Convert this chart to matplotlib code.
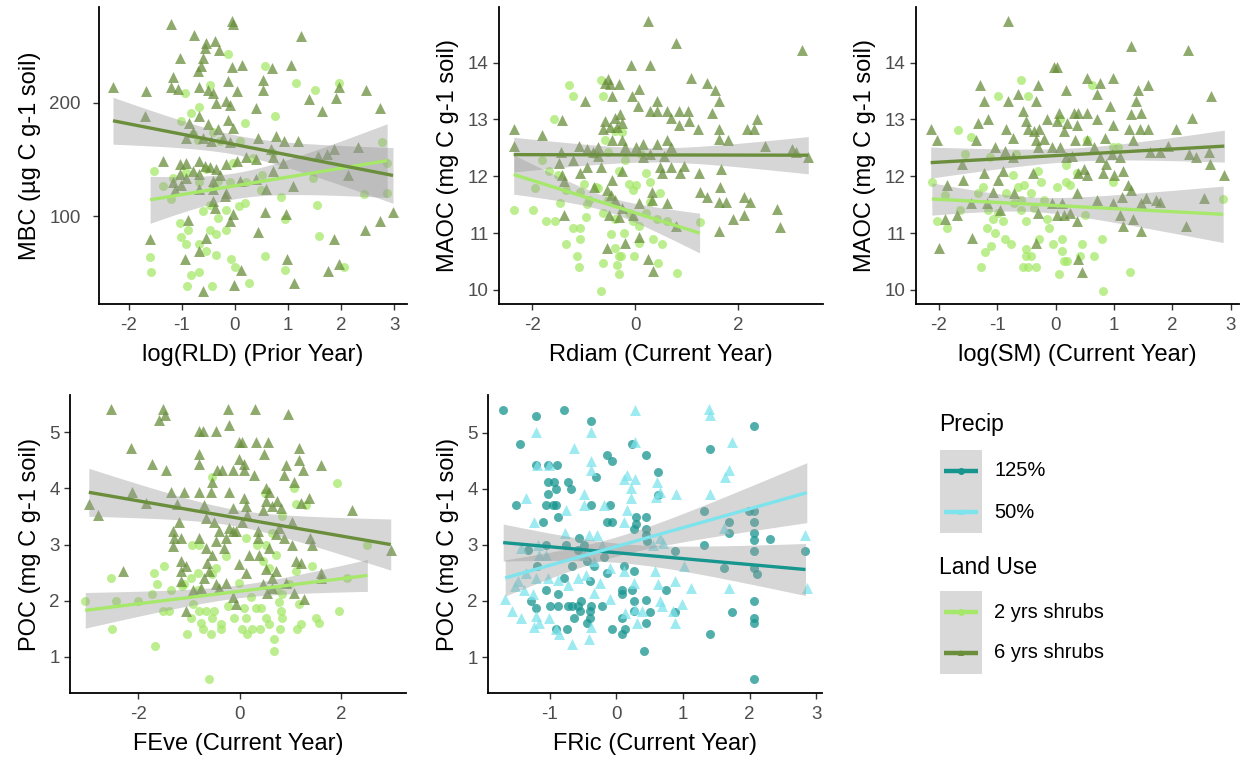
import numpy as np
import matplotlib
matplotlib.use("Agg")
import matplotlib.pyplot as plt
from matplotlib.patches import Rectangle

plt.rcParams['font.family'] = ['Liberation Sans', 'DejaVu Sans']
plt.rcParams['axes.unicode_minus'] = False

# colours
C_2YRS = '#a6e86a'
C_6YRS = '#6a8e3c'
C_125 = '#17958f'
C_50 = '#7de3ec'

# ---- data: (x, y) pairs ----
rld_2yrs = [(-0.13,243),(0.57,232),(1.16,217),(1.51,211),(1.97,217),(-0.94,208),(-0.48,215),(-0.82,191),(-0.67,196),(-1.01,184),(0.75,188),(0.18,182),(-0.79,172),(-0.70,167),(-0.42,174),(-0.29,166),(0.09,166),(0.34,151),(0.72,156),(2.77,165),(2.87,147),(-1.52,140),(-1.36,127),(-1.20,115),(-1.17,134),(-0.92,139),(-0.67,130),(-0.54,142),(-0.42,126),(-0.32,131),(-0.10,130),(-0.04,147),(0.51,136),(0.21,130),(0.50,123),(0.86,117),(1.48,134),(2.43,120),(2.87,121),(-0.60,105),(-0.48,110),(-0.16,106),(0.08,109),(0.18,112),(1.55,110),(0.94,98),(-0.32,99),(-1.04,94),(-0.89,88),(-1.01,82),(-0.92,76),(-0.48,88),(-0.35,85),(-0.16,88),(-0.68,76),(-0.54,70),(-0.35,66),(-0.07,63),(0.01,56),(0.57,65),(1.58,83),(2.05,56),(0.95,53),(-1.60,64),(-1.58,51),(-0.83,49),(-0.68,51),(-0.91,39),(-0.43,39),(0.26,42)]
rld_6yrs = [(-2.30,214),(-1.67,210),(-1.69,188),(-1.21,269),(-0.77,259),(-0.06,272),(-0.04,269),(1.25,258),(-0.54,252),(-0.56,248),(-0.38,254),(-0.31,246),(-1.03,239),(-0.60,239),(-0.64,232),(-0.69,228),(-0.06,231),(0.13,233),(0.69,230),(1.06,233),(-1.17,222),(-1.21,214),(-1.08,212),(-0.67,214),(-0.51,211),(-0.42,208),(-0.13,219),(0.03,210),(0.53,220),(0.52,211),(1.40,203),(1.65,193),(1.91,204),(1.97,214),(2.48,211),(2.73,195),(0.39,195),(-0.35,200),(-0.16,201),(-0.10,198),(-0.86,182),(-0.67,188),(-0.51,181),(-0.32,177),(-0.13,185),(-0.04,178),(-0.79,174),(-0.92,169),(-0.60,169),(-0.45,166),(-0.23,169),(-0.10,165),(0.43,169),(0.78,171),(0.92,166),(1.19,166),(2.32,161),(1.86,159),(1.74,155),(1.57,153),(0.67,159),(0.72,152),(-1.36,149),(-1.04,146),(-0.92,147),(-0.67,149),(-0.57,144),(-0.48,143),(-0.35,142),(-0.16,146),(0.03,149),(0.21,152),(0.40,150),(0.91,147),(0.72,140),(-1.04,137),(-0.92,134),(-0.79,140),(-0.67,137),(-0.42,131),(-0.29,136),(0.09,131),(0.40,133),(2.13,136),(-1.17,130),(-1.01,128),(-1.13,123),(-0.67,124),(-0.42,124),(-0.16,121),(0.59,124),(1.09,127),(-0.19,118),(-0.42,114),(-0.38,107),(-0.04,102),(-0.10,96),(0.97,102),(0.56,104),(2.98,104),(2.73,96),(2.45,88),(0.43,86),(-1.60,80),(-0.89,97),(-0.54,81),(-0.67,70),(-0.95,63),(0.98,63),(1.87,80),(1.97,58),(1.75,52),(0.12,53),(-0.01,40),(1.11,42),(-0.60,35)]

rdiam_2yrs = [(-2.36,11.40),(-1.98,11.40),(-1.94,11.79),(-1.81,12.29),(-1.74,11.21),(-1.55,11.21),(-1.57,13.00),(-1.28,13.61),(-1.21,13.41),(-1.67,12.10),(-1.50,12.02),(-1.47,11.53),(-1.34,11.76),(-1.20,11.09),(-1.07,11.09),(-1.07,10.90),(-1.34,10.80),(-1.13,10.60),(-1.10,10.40),(-1.07,11.73),(-0.96,11.29),(-0.90,11.58),(-1.00,11.87),(-0.76,11.81),(-0.66,9.99),(-0.66,13.70),(-0.63,13.41),(-0.59,12.63),(-0.53,12.42),(-0.73,11.79),(-0.53,11.58),(-0.63,11.35),(-0.63,10.48),(-0.47,10.98),(-0.39,10.74),(-0.32,10.60),(-0.36,10.43),(-0.32,10.28),(-0.27,10.60),(-0.26,12.77),(-0.32,12.10),(-0.19,12.28),(-0.12,11.87),(-0.05,11.76),(0.01,11.84),(-0.12,11.35),(-0.05,11.21),(0.08,11.12),(-0.02,10.60),(0.08,10.83),(0.11,12.39),(0.21,12.05),(0.28,11.90),(0.49,11.71),(0.28,11.54),(0.42,11.24),(0.62,11.21),(0.35,10.89),(0.52,10.80),(0.45,10.48),(0.82,10.30),(0.21,11.35),(-0.39,12.80),(-0.80,12.39),(-0.93,11.52),(-0.39,11.24),(-0.22,11.00),(1.25,11.20)]
rdiam_6yrs = [(-2.36,12.83),(-2.36,12.53),(-1.82,12.73),(-1.43,12.99),(-1.45,12.42),(-1.48,12.23),(-1.43,12.02),(-1.38,11.91),(-1.38,11.31),(-0.98,13.33),(-1.10,12.53),(-0.93,12.48),(-0.83,12.42),(-0.73,12.51),(-0.73,12.35),(-0.53,13.71),(-0.59,13.64),(-0.49,13.62),(-0.32,13.62),(-0.46,13.42),(-0.59,12.97),(-0.63,12.83),(-0.49,12.86),(-0.39,13.03),(-0.29,13.09),(-0.26,12.94),(-0.36,12.86),(-0.46,12.63),(-0.26,12.63),(-0.19,12.51),(-0.26,12.10),(-0.46,11.93),(-0.54,11.76),(-0.47,11.67),(-0.39,11.58),(-0.26,11.44),(-0.51,11.31),(-0.32,11.29),(-0.05,11.31),(0.08,11.53),(0.07,10.93),(-0.19,10.82),(-0.55,10.74),(-0.09,13.96),(0.28,13.96),(0.25,14.74),(0.79,14.35),(0.08,13.54),(-0.07,13.42),(0.05,13.23),(0.28,13.15),(0.42,13.33),(0.42,13.15),(0.62,13.15),(0.69,13.03),(0.85,13.15),(1.02,13.15),(1.09,13.72),(1.39,13.64),(1.55,13.52),(1.62,13.32),(1.50,13.12),(0.84,12.91),(1.05,12.97),(1.21,12.83),(1.63,12.83),(2.36,13.00),(2.17,12.83),(2.31,12.83),(1.63,12.65),(1.81,12.63),(2.51,12.54),(3.05,12.48),(3.24,14.22),(3.36,12.34),(3.12,12.42),(1.67,12.13),(1.65,11.81),(1.23,12.05),(0.94,12.18),(0.86,12.05),(0.69,12.16),(0.52,12.05),(0.49,12.16),(0.28,12.39),(0.42,12.57),(0.62,12.63),(0.69,12.51),(0.55,12.36),(0.15,12.57),(0.01,12.51),(0.15,12.34),(0.32,11.73),(0.32,11.58),(0.61,11.53),(1.26,11.73),(1.40,11.64),(1.63,11.54),(1.77,11.54),(2.12,11.64),(2.23,11.55),(2.12,11.32),(1.90,11.24),(2.76,11.42),(2.81,11.11),(1.62,11.03),(0.79,11.12),(0.25,10.54),(0.34,10.34),(-0.80,11.81),(-0.93,12.16),(-1.07,12.05),(-1.20,12.28),(-0.66,12.16)]

sm_2yrs = [(-2.12,11.90),(-2.03,11.21),(-1.89,11.67),(-1.86,11.09),(-1.68,12.81),(-1.64,11.41),(-1.55,12.39),(-1.45,12.69),(-1.27,10.40),(-1.33,11.70),(-1.24,11.81),(-1.21,10.66),(-1.18,11.09),(-1.15,11.41),(-1.10,10.78),(-1.13,12.34),(-1.07,11.24),(-1.04,11.00),(-0.99,13.41),(-0.99,11.35),(-0.90,11.21),(-0.87,10.89),(-0.76,10.80),(-0.85,11.70),(-0.73,12.02),(-0.68,12.39),(-0.65,11.81),(-0.71,11.53),(-0.59,13.70),(-0.54,11.84),(-0.59,11.58),(-0.59,11.41),(-0.51,11.21),(-0.51,10.72),(-0.56,10.40),(-0.48,10.40),(-0.34,10.40),(-0.51,10.60),(-0.42,10.60),(-0.48,13.41),(-0.42,11.70),(-0.37,11.44),(-0.31,12.10),(-0.28,10.89),(-0.25,11.90),(-0.20,11.58),(-0.14,11.24),(-0.11,11.09),(-0.04,10.80),(0.03,11.81),(0.06,10.28),(0.08,13.00),(0.11,10.89),(0.11,10.69),(0.14,10.51),(0.20,10.51),(0.17,11.90),(0.17,12.19),(0.25,11.84),(0.37,12.05),(0.45,10.80),(0.41,10.60),(0.51,11.32),(0.54,12.63),(0.65,10.60),(0.62,13.61),(0.79,10.89),(0.81,9.99),(0.99,12.51),(0.98,11.90),(1.27,10.31),(1.07,12.51),(2.87,11.60)]
sm_6yrs = [(-2.14,12.83),(-2.04,12.64),(-2.00,10.74),(-1.86,11.84),(-1.89,11.24),(-1.69,11.31),(-1.61,12.22),(-1.58,11.93),(-1.44,10.92),(-1.45,11.53),(-1.37,12.64),(-1.30,13.61),(-1.33,12.94),(-1.23,13.33),(-1.22,12.05),(-1.18,11.53),(-1.15,13.00),(-1.07,11.73),(-1.04,12.51),(-0.99,11.93),(-0.90,12.10),(-0.96,11.41),(-0.82,14.74),(-0.82,13.33),(-0.85,12.83),(-0.73,12.68),(-0.73,12.34),(-0.71,11.70),(-0.87,12.45),(-0.65,13.44),(-0.56,13.15),(-0.51,12.97),(-0.48,12.83),(-0.37,12.80),(-0.31,13.61),(-0.34,13.32),(-0.28,12.83),(-0.34,12.63),(-0.31,12.51),(-0.20,12.65),(-0.39,12.05),(-0.31,11.35),(-0.34,10.83),(-0.14,13.00),(-0.03,13.92),(0.03,13.92),(0.06,13.12),(0.03,12.97),(0.14,12.80),(0.08,12.51),(-0.06,12.51),(-0.06,11.53),(0.11,11.53),(0.03,11.32),(0.14,11.32),(0.17,13.52),(0.20,12.94),(0.31,13.12),(0.39,13.12),(0.37,12.91),(0.34,12.63),(0.28,12.36),(0.17,12.34),(0.39,12.05),(0.37,11.70),(0.25,11.35),(0.37,11.21),(0.39,10.54),(0.46,10.31),(0.54,13.72),(0.54,13.12),(0.71,13.00),(0.76,13.64),(0.71,13.44),(0.54,12.63),(0.65,12.51),(0.48,12.13),(0.54,12.02),(0.71,11.58),(0.76,12.34),(0.85,12.68),(0.93,13.23),(0.99,13.72),(0.98,12.91),(0.87,12.22),(0.96,12.39),(0.82,12.05),(1.00,12.02),(1.10,12.34),(0.99,11.53),(1.13,11.64),(1.10,11.32),(1.16,11.12),(1.16,12.10),(1.30,14.30),(1.30,13.09),(1.26,12.83),(1.32,12.63),(1.38,13.32),(1.41,13.52),(1.46,13.12),(1.44,12.83),(1.58,12.83),(1.58,13.61),(1.61,12.42),(1.24,11.84),(1.30,11.76),(1.32,11.24),(1.46,11.03),(1.46,11.53),(1.55,11.61),(1.72,11.58),(1.78,11.55),(1.78,12.42),(1.92,12.54),(2.06,12.83),(2.27,14.22),(2.34,13.03),(2.28,12.39),(2.40,12.34),(2.24,11.12),(2.54,11.61),(2.67,13.41),(2.62,12.42),(2.65,12.22),(2.89,12.02)]

feve_2yrs = [(-3.04,2.00),(-2.53,2.41),(-2.52,1.50),(-2.43,2.00),(-2.01,2.00),(-1.68,2.50),(-1.67,1.20),(-1.49,2.62),(-1.62,2.29),(-1.36,2.20),(-1.72,2.12),(-1.52,1.82),(-1.39,1.82),(-1.09,2.30),(-1.03,1.41),(-0.94,3.00),(-0.80,3.00),(-0.83,2.50),(-0.96,2.41),(-0.83,2.20),(-0.93,1.94),(-0.80,1.82),(-0.96,1.70),(-0.77,1.61),(-0.73,1.50),(-0.57,1.41),(-0.60,0.60),(-0.54,2.47),(-0.47,2.59),(-0.67,1.82),(-0.50,1.82),(-0.54,1.70),(-0.37,1.58),(-0.37,1.50),(-0.27,2.79),(-0.54,4.21),(-0.24,1.91),(-0.11,1.70),(-0.01,2.32),(0.08,1.88),(0.12,1.70),(0.05,1.50),(0.15,1.40),(0.25,1.50),(0.40,1.50),(0.31,1.88),(0.41,1.88),(0.12,3.12),(0.33,3.00),(0.51,3.00),(0.45,2.71),(0.64,3.21),(0.58,2.59),(0.50,3.91),(0.51,1.70),(0.58,1.58),(0.67,1.32),(0.67,1.10),(0.71,2.82),(0.74,2.20),(0.77,1.97),(0.82,1.82),(0.83,1.70),(0.79,1.50),(0.84,3.50),(0.84,2.12),(0.97,2.29),(1.07,4.00),(1.10,3.72),(1.10,2.53),(1.16,1.94),(1.13,1.50),(1.20,1.58),(1.30,3.71),(1.43,2.62),(1.49,1.70),(1.56,1.61),(1.95,1.81),(1.92,4.09),(2.11,2.41),(2.51,3.00),(0.22,2.06),(-1.13,2.26)]
feve_6yrs = [(-2.53,5.42),(-2.14,4.72),(-2.97,3.72),(-2.78,3.53),(-2.12,3.94),(-2.30,2.53),(-1.85,3.74),(-1.72,4.43),(-1.45,4.33),(-1.52,5.42),(-1.47,5.30),(-1.58,5.21),(-1.36,3.94),(-1.23,3.72),(-1.19,3.41),(-1.32,3.24),(-1.29,3.12),(-1.32,2.97),(-1.16,3.12),(-1.16,2.71),(-1.16,2.53),(-1.16,2.35),(-1.06,1.82),(-1.09,3.94),(-0.80,4.62),(-0.80,4.43),(-0.80,5.02),(-0.73,5.02),(-0.47,5.02),(-0.80,3.94),(-0.70,3.71),(-0.81,3.12),(-0.67,3.47),(-0.67,2.94),(-0.50,3.41),(-0.47,3.06),(-0.57,3.94),(-0.54,4.12),(-0.44,4.33),(-0.34,4.33),(-0.24,5.42),(-0.22,5.12),(-0.21,3.94),(-0.14,4.33),(-0.01,4.83),(0.04,4.83),(-0.01,4.53),(0.08,4.44),(0.08,4.33),(0.28,4.24),(0.31,4.83),(0.30,5.42),(0.55,4.83),(0.48,4.62),(-0.14,3.65),(0.08,3.83),(0.12,3.68),(0.15,3.53),(0.05,3.41),(-0.21,3.30),(-0.14,3.24),(-0.27,3.12),(-0.08,3.24),(-0.41,3.24),(-0.31,2.94),(-0.54,2.82),(-0.64,2.68),(-0.60,2.53),(-0.70,2.41),(-0.77,2.23),(-0.47,2.29),(-0.41,2.23),(-0.27,2.32),(-0.14,2.06),(-0.08,1.94),(-0.01,2.65),(0.12,2.50),(0.18,2.82),(0.35,3.12),(0.38,2.82),(0.35,3.24),(0.45,3.62),(0.51,3.77),(0.58,3.94),(0.51,4.00),(0.64,3.68),(0.58,2.94),(0.51,2.56),(0.45,2.29),(0.64,2.23),(0.54,2.14),(0.74,3.77),(0.77,3.30),(0.71,3.18),(0.81,3.65),(0.87,3.12),(0.90,2.32),(0.71,2.53),(0.64,2.41),(0.90,4.42),(0.87,4.24),(0.94,5.33),(1.03,3.00),(1.03,3.41),(1.07,4.12),(1.10,2.71),(1.16,4.71),(1.16,4.50),(1.20,3.74),(1.20,2.68),(1.24,4.33),(1.26,2.03),(1.07,2.14),(1.36,3.83),(1.39,3.12),(1.43,3.00),(1.59,4.42),(1.59,2.50),(1.59,2.41),(2.21,3.62),(2.97,2.91),(-1.06,2.62),(-0.93,2.20)]

fric_125 = [(-1.70,5.41),(-1.20,5.30),(-0.78,5.41),(-0.38,5.20),(-1.44,4.80),(-1.20,4.42),(-1.03,4.43),(-0.89,4.43),(-0.14,4.60),(-0.06,4.50),(0.24,4.80),(0.44,4.60),(0.63,4.30),(2.07,5.11),(1.41,4.70),(-1.51,3.71),(-1.03,4.12),(-0.93,4.12),(-0.73,4.12),(-0.68,4.00),(-0.91,4.00),(-1.03,3.91),(-1.05,3.71),(-0.95,3.71),(-0.91,3.71),(-0.88,3.50),(-1.10,3.41),(-0.31,4.21),(-0.38,3.71),(-0.09,3.71),(-0.14,3.41),(-0.06,3.41),(0.63,3.89),(0.30,3.50),(0.30,3.38),(0.45,3.50),(0.45,3.29),(0.45,3.18),(0.46,3.07),(0.27,3.29),(1.32,3.60),(1.69,3.41),(1.69,3.21),(1.32,3.00),(0.88,2.89),(1.99,3.60),(2.06,3.60),(2.06,3.41),(2.07,3.21),(2.07,3.09),(2.07,2.89),(2.31,3.11),(2.84,2.89),(2.06,2.59),(2.11,2.48),(1.62,2.59),(2.07,2.00),(2.07,1.70),(2.07,1.60),(1.74,1.81),(1.41,1.41),(2.07,0.60),(0.42,1.10),(0.88,1.81),(0.74,2.20),(0.50,1.81),(0.44,2.01),(0.44,1.60),(0.26,2.00),(0.23,2.20),(0.26,1.82),(0.09,2.20),(0.09,2.12),(0.09,1.70),(0.13,1.50),(0.09,1.41),(-0.06,1.50),(0.11,2.62),(0.26,2.53),(-0.14,2.50),(-0.21,1.91),(-0.19,2.79),(-0.34,2.62),(-0.39,2.35),(-0.38,1.91),(-0.39,1.82),(-0.39,1.70),(-0.44,1.60),(-0.53,2.00),(-0.54,1.82),(-0.58,1.91),(-0.66,1.91),(-0.73,1.91),(-0.63,1.70),(-0.74,1.50),(-0.58,2.91),(-0.66,2.62),(-0.56,3.12),(-0.49,3.00),(-0.44,2.71),(-0.88,2.12),(-0.88,1.91),(-0.99,1.91),(-1.05,2.20),(-0.91,1.50),(-1.28,2.00),(-1.20,1.88),(-1.33,2.91),(-1.19,2.62),(-1.05,3.00),(-0.78,2.41),(-0.75,3.00)]
fric_50 = [(0.28,5.41),(1.39,5.43),(1.40,5.31),(-1.20,5.01),(-0.38,5.01),(-0.64,4.72),(0.28,4.83),(1.73,4.83),(-1.19,4.42),(-1.01,4.42),(-0.38,4.50),(-0.38,4.33),(0.16,4.24),(0.28,4.18),(0.22,4.01),(1.69,4.33),(1.63,4.21),(1.40,3.91),(0.90,3.91),(0.61,4.12),(0.66,3.94),(0.60,3.86),(-0.49,3.91),(-1.35,3.83),(-0.76,3.62),(-0.48,3.71),(-0.18,3.71),(0.22,3.83),(0.16,3.62),(0.12,3.41),(-1.23,3.41),(1.62,3.30),(0.65,3.12),(0.55,3.00),(-0.77,3.21),(-0.41,3.18),(-0.29,3.18),(-0.21,3.00),(-1.18,3.00),(-1.43,2.94),(-1.16,2.82),(-1.05,2.82),(-0.49,2.82),(-0.34,2.71),(-0.09,2.59),(0.11,2.53),(0.58,2.53),(1.02,2.62),(2.84,3.18),(2.86,2.23),(1.12,2.23),(1.69,2.23),(0.88,2.35),(0.63,2.30),(0.27,2.32),(-0.24,2.32),(-0.46,2.47),(-0.58,2.41),(-0.73,2.29),(-0.88,2.38),(-1.03,2.41),(-1.20,2.41),(-1.35,2.50),(-1.48,2.35),(-1.52,2.26),(-1.67,2.03),(-1.57,1.82),(-1.43,1.70),(-1.38,2.20),(-1.25,2.12),(-1.20,1.73),(-1.23,1.53),(-1.16,1.61),(-1.01,1.70),(-0.91,1.50),(-0.86,1.41),(-0.66,1.23),(-0.41,1.32),(-0.38,1.53),(-0.34,2.14),(-0.09,2.03),(0.13,1.79),(0.28,1.85),(0.38,1.82),(0.31,1.61),(0.65,2.00),(0.68,1.91),(0.85,1.82),(0.99,1.94),(0.88,1.61),(0.12,4.18),(0.70,3.03)]

# fitted lines:
# [y at min x, y at max x, band half-width at min x, band half-width at max x]
rld_fit_2yrs = [114.6, 149.0, 18.0, 36.5]
rld_fit_6yrs = [184.0, 136.0, 21.8, 23.0]
rdiam_fit_2yrs = [12.03, 11.00, 0.345, 0.35]
rdiam_fit_6yrs = [12.38, 12.37, 0.29, 0.345]
sm_fit_2yrs = [11.60, 11.33, 0.265, 0.53]
sm_fit_6yrs = [12.24, 12.53, 0.255, 0.30]
feve_fit_2yrs = [1.83, 2.45, 0.315, 0.285]
feve_fit_6yrs = [3.93, 3.00, 0.44, 0.44]
fric_fit_125 = [3.04, 2.56, 0.33, 0.465]
fric_fit_50 = [2.41, 3.93, 0.295, 0.58]

W, H = 1251, 759
fig = plt.figure(figsize=(W / 100, H / 100), dpi=100)


def axes_px(l, t, r, b):
    return fig.add_axes([l / W, 1 - b / H, (r - l) / W, (b - t) / H])


def scatter(ax, pts, color, marker):
    p = np.array(pts)
    size = 42 if marker == 'o' else 62
    ax.scatter(p[:, 0], p[:, 1], s=size, marker=marker, color=color,
               alpha=0.75, linewidths=0, zorder=2)


def smooth(ax, pts, fit, color):
    # straight lm line with a confidence ribbon shaped like the lm standard error
    x = np.array(pts)[:, 0]
    x0, x1 = x.min(), x.max()
    xs = np.linspace(x0, x1, 80)
    ys = fit[0] + (fit[1] - fit[0]) * (xs - x0) / (x1 - x0)
    xm = x.mean()
    sxx = ((x - xm) ** 2).sum()
    shape = np.sqrt(1 / len(x) + (xs - xm) ** 2 / sxx)
    scale = (fit[2] / shape[0] + fit[3] / shape[-1]) / 2
    hw = scale * shape
    ax.fill_between(xs, ys - hw, ys + hw, color='#999999', alpha=0.4,
                    linewidth=0, zorder=3)
    ax.plot(xs, ys, color=color, lw=2.4, zorder=4, solid_capstyle='butt')


def style(ax, xticks, yticks, xlabel, ylabel, ypad=3.5):
    ax.margins(0.05)
    ax.set_xticks(xticks)
    ax.set_yticks(yticks)
    for s in ['top', 'right']:
        ax.spines[s].set_visible(False)
    for s in ['left', 'bottom']:
        ax.spines[s].set_linewidth(1.3)
        ax.spines[s].set_color('black')
    ax.tick_params(length=4, width=1, colors='#333333', labelcolor='#4d4d4d',
                   labelsize=13.5)
    ax.tick_params(axis='x', pad=5.5)
    ax.tick_params(axis='y', pad=ypad)
    ax.set_xlabel(xlabel, fontsize=17, color='black', labelpad=7)
    ax.set_ylabel(ylabel, fontsize=17, color='black', labelpad=6)


panels = [
    ((99, 7, 407, 304), rld_2yrs, rld_6yrs, rld_fit_2yrs, rld_fit_6yrs,
     [-2, -1, 0, 1, 2, 3], [100, 200], 'log(RLD) (Prior Year)', 'MBC (µg C g-1 soil)', 9),
    ((499, 7, 823, 304), rdiam_2yrs, rdiam_6yrs, rdiam_fit_2yrs, rdiam_fit_6yrs,
     [-2, 0, 2], [10, 11, 12, 13, 14], 'Rdiam (Current Year)', 'MAOC (mg C g-1 soil)', 3.5),
    ((916, 7, 1239, 304), sm_2yrs, sm_6yrs, sm_fit_2yrs, sm_fit_6yrs,
     [-2, -1, 0, 1, 2, 3], [10, 11, 12, 13, 14], 'log(SM) (Current Year)', 'MAOC (mg C g-1 soil)', 3.5),
    ((70, 395, 406, 693), feve_2yrs, feve_6yrs, feve_fit_2yrs, feve_fit_6yrs,
     [-2, 0, 2], [1, 2, 3, 4, 5], 'FEve (Current Year)', 'POC (mg C g-1 soil)', 3.5),
]

for box, p2, p6, f2, f6, xt, yt, xl, yl, yp in panels:
    ax = axes_px(*box)
    scatter(ax, p2, C_2YRS, 'o')
    scatter(ax, p6, C_6YRS, '^')
    smooth(ax, p2, f2, C_2YRS)
    smooth(ax, p6, f6, C_6YRS)
    style(ax, xt, yt, xl, yl, yp)

ax = axes_px(488, 395, 822, 693)
scatter(ax, fric_125, C_125, 'o')
scatter(ax, fric_50, C_50, '^')
smooth(ax, fric_125, fric_fit_125, C_125)
smooth(ax, fric_50, fric_fit_50, C_50)
style(ax, [-1, 0, 1, 2, 3], [1, 2, 3, 4, 5], 'FRic (Current Year)', 'POC (mg C g-1 soil)')

# legend, drawn in figure pixels
lg = fig.add_axes([0, 0, 1, 1])
lg.set_xlim(0, W)
lg.set_ylim(H, 0)
lg.axis('off')
lg.patch.set_alpha(0)

legend_groups = [
    ('Precip', 425, 450, [('125%', C_125, 'o'), ('50%', C_50, '^')]),
    ('Land Use', 567, 591, [('2 yrs shrubs', C_2YRS, 'o'), ('6 yrs shrubs', C_6YRS, '^')]),
]
for title, ty, top, items in legend_groups:
    lg.text(939, ty, title, fontsize=16.5, va='center', ha='left')
    lg.add_patch(Rectangle((940, top), 42, 83, color='#d9d9d9', lw=0))
    for i, (lab, col, mk) in enumerate(items):
        yy = top + 21 + 41 * i
        lg.plot([944, 978], [yy, yy], color=col, lw=3.2, solid_capstyle='butt')
        lg.plot([961], [yy], marker=mk, ms=5, color=col, mew=0)
        lg.text(994, yy, lab, fontsize=14.5, va='center', ha='left')

fig.savefig('out.png', dpi=100)
